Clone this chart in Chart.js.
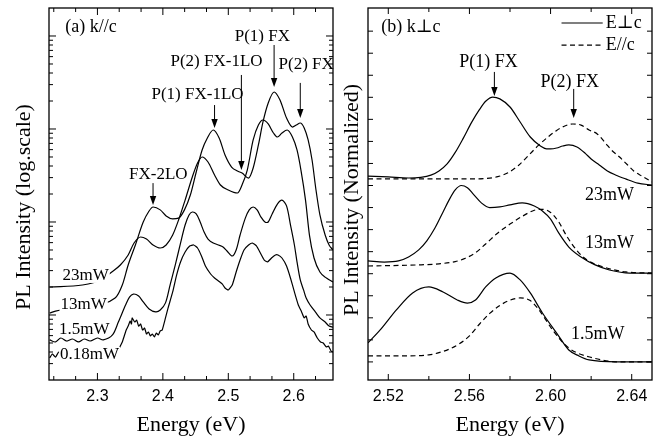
<!DOCTYPE html>
<html>
<head>
<meta charset="utf-8">
<script src="https://cdn.jsdelivr.net/npm/chart.js@4.4.0/dist/chart.umd.min.js"></script>
<style>
  body { margin: 0; background: #fff; }
  #wrap { position: relative; width: 661px; height: 440px; background: #fff; }
  canvas { position: absolute; top: 0; }
  #chartA { left: 0; }
  #chartB { left: 340px; }
</style>
</head>
<body>
<div id="wrap">
  <canvas id="chartA" width="340" height="440" style="width:340px;height:440px"></canvas>
  <canvas id="chartB" width="321" height="440" style="width:321px;height:440px"></canvas>
</div>
<script>
// ---------- panel (a) k//c : PL intensity, log scale ----------
const eA23 = [2.227, 2.277, 2.305, 2.320, 2.335, 2.347, 2.356, 2.366, 2.375, 2.385, 2.396, 2.405, 2.415, 2.424, 2.434, 2.445, 2.453, 2.460, 2.469, 2.479, 2.488, 2.500, 2.514, 2.521, 2.529, 2.538, 2.546, 2.553, 2.561, 2.569, 2.575, 2.582, 2.590, 2.598, 2.605, 2.611, 2.618, 2.624, 2.631, 2.640, 2.650, 2.660];
const iA23 = [20.0, 21.0, 23.8, 28.3, 34.5, 44.2, 59.4, 69.0, 65.6, 56.6, 52.5, 56.6, 72.4, 105, 172, 305, 431, 500, 442, 320, 250, 221, 205, 250, 362, 762, 1104, 1250, 1133, 906, 820, 906, 975, 820, 595, 362, 172, 72.4, 41.0, 29.0, 25.0, 22.7];

const eA13 = [2.227, 2.236, 2.282, 2.327, 2.338, 2.347, 2.358, 2.370, 2.378, 2.385, 2.396, 2.405, 2.415, 2.424, 2.433, 2.442, 2.451, 2.460, 2.468, 2.477, 2.486, 2.495, 2.505, 2.514, 2.521, 2.531, 2.538, 2.546, 2.553, 2.561, 2.570, 2.579, 2.589, 2.598, 2.604, 2.610, 2.616, 2.622, 2.628, 2.634, 2.640, 2.648, 2.654, 2.660];
const iA13 = [10.5, 11.0, 12.5, 15.2, 21.0, 34.5, 56.6, 100, 128, 145, 135, 116, 108, 110, 135, 195, 345, 595, 800, 975, 800, 525, 390, 353, 336, 297, 381, 673, 1190, 1905, 2500, 2050, 1310, 1050, 1104, 1160, 1025, 762, 464, 221, 119, 72.4, 56.6, 50.0];

const eA15 = [2.227, 2.236, 2.244, 2.253, 2.262, 2.271, 2.280, 2.289, 2.300, 2.309, 2.323, 2.332, 2.343, 2.349, 2.355, 2.363, 2.370, 2.379, 2.389, 2.396, 2.404, 2.411, 2.419, 2.427, 2.434, 2.440, 2.445, 2.451, 2.457, 2.463, 2.469, 2.477, 2.485, 2.492, 2.498, 2.506, 2.512, 2.518, 2.526, 2.532, 2.538, 2.544, 2.550, 2.556, 2.561, 2.567, 2.575, 2.582, 2.589, 2.595, 2.601, 2.605, 2.610, 2.615, 2.619, 2.625, 2.633, 2.640, 2.648, 2.654, 2.660];
const iA15 = [5.4, 5.13, 5.66, 5.25, 5.52, 5.13, 5.52, 5.25, 5.66, 5.4, 6.1, 8.4, 12.8, 15.6, 16.8, 16.0, 13.8, 11.6, 10.8, 11.3, 13.5, 21.0, 34.5, 59.4, 92.9, 119, 128, 122, 100, 78, 65.6, 59.4, 56.6, 53.8, 48.8, 43.1, 50.0, 72.4, 110, 135, 145, 135, 113, 100, 100, 122, 156, 172, 149, 92.9, 56.6, 37.2, 23.8, 18.6, 15.2, 12.8, 10.8, 9.3, 8.4, 7.6, 7.4];

const eA018 = [2.227, 2.231, 2.236, 2.241, 2.259, 2.289, 2.320, 2.332, 2.335, 2.338, 2.341, 2.344, 2.347, 2.350, 2.352, 2.353, 2.357, 2.360, 2.363, 2.366, 2.369, 2.372, 2.375, 2.378, 2.381, 2.384, 2.387, 2.390, 2.393, 2.396, 2.399, 2.404, 2.408, 2.415, 2.421, 2.427, 2.434, 2.441, 2.447, 2.453, 2.459, 2.465, 2.473, 2.479, 2.485, 2.491, 2.495, 2.500, 2.506, 2.512, 2.518, 2.524, 2.531, 2.537, 2.543, 2.549, 2.555, 2.560, 2.566, 2.572, 2.576, 2.582, 2.589, 2.595, 2.601, 2.607, 2.612, 2.616, 2.619, 2.622, 2.627, 2.631, 2.636, 2.641, 2.645, 2.650, 2.653, 2.657, 2.660];
const iA018 = [3.45, 3.81, 3.53, 4.0, 3.81, 3.9, 4.0, 4.2, 4.64, 5.13, 5.95, 6.9, 7.6, 8.6, 8.0, 9.3, 8.4, 8.8, 7.6, 8.0, 6.9, 7.24, 6.25, 6.57, 5.95, 6.25, 5.8, 6.4, 6.1, 6.73, 6.9, 9.3, 11.9, 17.7, 26.9, 37.2, 47.5, 55.2, 56.6, 52.5, 43.1, 33.6, 27.6, 25.0, 23.2, 21.5, 19.5, 18.6, 21.0, 29.0, 39.0, 50.0, 56.6, 59.4, 55.2, 46.4, 39.0, 37.2, 41.0, 44.2, 44.2, 41.0, 33.6, 25.0, 17.7, 12.8, 10.8, 9.3, 9.75, 8.0, 6.9, 6.57, 5.66, 5.13, 5.0, 4.53, 4.64, 4.1, 4.0];

const xMajorA = [2.3, 2.4, 2.5, 2.6];
const xLabelsA = ['2.3', '2.4', '2.5', '2.6'];
const xMinorA = [2.2333, 2.2667, 2.3333, 2.3667, 2.4333, 2.4667, 2.5333, 2.5667, 2.6333];
const yMajorA = [10, 100, 1000, 10000];
const yMinorA = [3, 4, 5, 6, 7, 8, 9, 20, 30, 40, 50, 60, 70, 80, 90, 200, 300, 400, 500, 600, 700, 800, 900, 2000, 3000, 4000, 5000, 6000, 7000, 8000, 9000];

// ---------- panel (b) k⊥c : normalized, linear ----------
const eB23s = [2.510, 2.520, 2.530, 2.536, 2.541, 2.545, 2.549, 2.553, 2.557, 2.561, 2.565, 2.568, 2.5715, 2.575, 2.580, 2.585, 2.590, 2.595, 2.598, 2.600, 2.603, 2.606, 2.609, 2.613, 2.617, 2.620, 2.624, 2.628, 2.632, 2.637, 2.643, 2.650];
const vB23s = [8.43, 8.39, 8.34, 8.37, 8.47, 8.66, 8.98, 9.50, 10.15, 10.85, 11.45, 11.82, 12.01, 11.93, 11.56, 10.88, 10.20, 9.79, 9.66, 9.66, 9.70, 9.79, 9.84, 9.75, 9.47, 9.20, 8.93, 8.66, 8.48, 8.30, 8.11, 8.02];
const eB23d = [2.510, 2.540, 2.560, 2.568, 2.574, 2.579, 2.584, 2.589, 2.594, 2.599, 2.603, 2.607, 2.611, 2.615, 2.619, 2.623, 2.627, 2.630, 2.634, 2.638, 2.641, 2.645, 2.650];
const vB23d = [8.30, 8.30, 8.30, 8.32, 8.40, 8.58, 8.90, 9.35, 9.82, 10.22, 10.50, 10.70, 10.79, 10.74, 10.52, 10.34, 9.93, 9.61, 9.29, 8.93, 8.66, 8.43, 8.16];

const eB13s = [2.510, 2.518, 2.525, 2.530, 2.535, 2.539, 2.543, 2.547, 2.550, 2.553, 2.556, 2.559, 2.562, 2.566, 2.570, 2.575, 2.580, 2.586, 2.592, 2.596, 2.600, 2.604, 2.609, 2.615, 2.622, 2.629, 2.639, 2.650];
const vB13s = [4.58, 4.53, 4.58, 4.76, 5.08, 5.49, 6.07, 6.80, 7.35, 7.80, 8.00, 7.90, 7.60, 7.20, 7.00, 7.03, 7.12, 7.21, 7.07, 6.84, 6.48, 5.85, 5.21, 4.76, 4.40, 4.17, 4.03, 4.03];
const eB13d = [2.510, 2.535, 2.545, 2.553, 2.558, 2.563, 2.568, 2.574, 2.580, 2.586, 2.592, 2.596, 2.600, 2.604, 2.608, 2.613, 2.618, 2.626, 2.637, 2.650];
const vB13d = [4.35, 4.40, 4.45, 4.55, 4.70, 4.95, 5.35, 5.85, 6.25, 6.60, 6.88, 6.92, 6.78, 6.35, 5.70, 5.05, 4.62, 4.31, 4.08, 4.03];

const eB15s = [2.510, 2.516, 2.524, 2.532, 2.540, 2.547, 2.554, 2.559, 2.563, 2.568, 2.573, 2.580, 2.585, 2.590, 2.596, 2.603, 2.609, 2.614, 2.619, 2.633, 2.650];
const vB15s = [0.86, 1.45, 2.36, 3.13, 3.40, 3.17, 2.81, 2.67, 2.81, 3.40, 3.81, 4.03, 3.72, 3.13, 2.22, 1.31, 0.54, 0.27, 0.09, 0.0, 0.0];
const eB15d = [2.510, 2.525, 2.540, 2.545, 2.550, 2.555, 2.560, 2.565, 2.570, 2.575, 2.580, 2.585, 2.590, 2.595, 2.601, 2.609, 2.621, 2.634, 2.650];
const vB15d = [0.27, 0.27, 0.32, 0.42, 0.58, 0.82, 1.18, 1.72, 2.20, 2.56, 2.80, 2.90, 2.78, 2.27, 1.45, 0.63, 0.18, 0.0, 0.0];

const xMajorB = [2.52, 2.56, 2.60, 2.64];
const xLabelsB = ['2.52', '2.56', '2.60', '2.64'];
const xMinorB = [2.54, 2.58, 2.62];
const yTicksB = [0, 1, 2, 3, 4, 5, 6, 7, 8, 9, 10, 11, 12, 13, 14, 15];

// ---------- annotations (data coordinates) ----------
const notesA = [
  { text: 'P(1) FX', e: 2.552, v: 9750 },
  { text: 'P(2) FX-1LO', e: 2.482, v: 5380 },
  { text: 'P(2) FX', e: 2.619, v: 4880 },
  { text: 'P(1) FX-1LO', e: 2.453, v: 2320 },
  { text: 'FX-2LO', e: 2.393, v: 320 }
];
const arrowsA = [
  { e: 2.570, from: 8000, to: 2830 },
  { e: 2.520, from: 3810, to: 362 },
  { e: 2.610, from: 3130, to: 1310 },
  { e: 2.479, from: 1810, to: 1025 },
  { e: 2.385, from: 262, to: 152 }
];
const powerA = [
  { text: '23mW', e: 2.282, v: 26.3 },
  { text: '13mW', e: 2.279, v: 13.1 },
  { text: '1.5mW', e: 2.280, v: 7.06 },
  { text: '0.18mW', e: 2.288, v: 3.72 }
];
const notesB = [
  { text: 'P(1) FX', e: 2.5694, v: 13.60 },
  { text: 'P(2) FX', e: 2.6094, v: 12.69 },
  { text: '23mW', e: 2.6291, v: 7.57 },
  { text: '13mW', e: 2.6291, v: 5.39 },
  { text: '1.5mW', e: 2.6232, v: 1.27 }
];
const arrowsB = [
  { e: 2.5723, from: 13.15, to: 12.06 },
  { e: 2.6114, from: 12.38, to: 11.06 }
];

const SERIF = '"Liberation Serif", "DejaVu Serif", serif';
const SANS = '"Liberation Sans", Arial, sans-serif';

function pts(es, vs) {
  return es.map((e, i) => ({ x: e, y: vs[i] }));
}

function seg(ctx, x1, y1, x2, y2) {
  ctx.beginPath();
  ctx.moveTo(x1, y1);
  ctx.lineTo(x2, y2);
  ctx.stroke();
}

function drawArrow(ctx, x, y1, y2) {
  ctx.lineWidth = 1;
  seg(ctx, x, y1, x, y2 - 7);
  ctx.beginPath();
  ctx.moveTo(x - 3.2, y2 - 9);
  ctx.lineTo(x + 3.2, y2 - 9);
  ctx.lineTo(x, y2);
  ctx.closePath();
  ctx.fill();
}

function drawFrame(chart, cfg) {
  const { ctx, chartArea: a, scales: { x, y } } = chart;
  ctx.save();
  ctx.strokeStyle = '#000';
  ctx.fillStyle = '#000';
  ctx.lineWidth = 1;
  cfg.xMajor.forEach(v => {
    const p = x.getPixelForValue(v);
    seg(ctx, p, a.bottom, p, a.bottom - cfg.xMaj);
    seg(ctx, p, a.top, p, a.top + cfg.xMaj);
  });
  cfg.xMinor.forEach(v => {
    const p = x.getPixelForValue(v);
    seg(ctx, p, a.bottom, p, a.bottom - cfg.xMin);
    seg(ctx, p, a.top, p, a.top + cfg.xMin);
  });
  cfg.yMajor.forEach(v => {
    const p = y.getPixelForValue(v);
    seg(ctx, a.left, p, a.left + cfg.yMaj, p);
    seg(ctx, a.right, p, a.right - cfg.yMaj, p);
  });
  cfg.yMinor.forEach(v => {
    const p = y.getPixelForValue(v);
    seg(ctx, a.left, p, a.left + cfg.yMin, p);
    seg(ctx, a.right, p, a.right - cfg.yMin, p);
  });
  ctx.lineWidth = 1.3;
  ctx.strokeRect(a.left, a.top, a.right - a.left, a.bottom - a.top);

  ctx.font = '16px ' + SANS;
  ctx.textAlign = 'center';
  ctx.textBaseline = 'middle';
  cfg.xMajor.forEach((v, i) => ctx.fillText(cfg.xLabels[i], x.getPixelForValue(v), a.bottom + 17));

  ctx.font = cfg.titleSize + 'px ' + SERIF;
  ctx.fillText('Energy (eV)', (a.left + a.right) / 2, a.bottom + 45);
  ctx.save();
  ctx.translate(cfg.yTitleX, cfg.yTitleY);
  ctx.rotate(-Math.PI / 2);
  ctx.fillText(cfg.yTitle, 0, 0);
  ctx.restore();
  ctx.restore();
}

const lineBase = { borderColor: '#000', borderWidth: 1.2, pointRadius: 0, fill: false };

function baseOptions(pad, xMin, xMax, yScale) {
  return {
    responsive: false,
    animation: false,
    layout: { padding: pad },
    plugins: { legend: { display: false }, tooltip: { enabled: false } },
    scales: {
      x: { type: 'linear', min: xMin, max: xMax, display: false },
      y: Object.assign({ display: false }, yScale)
    }
  };
}

// ---------- chart (a) ----------
new Chart(document.getElementById('chartA'), {
  type: 'line',
  data: {
    datasets: [
      Object.assign({ label: '23mW', data: pts(eA23, iA23), cubicInterpolationMode: 'monotone' }, lineBase),
      Object.assign({ label: '13mW', data: pts(eA13, iA13), cubicInterpolationMode: 'monotone' }, lineBase),
      Object.assign({ label: '1.5mW', data: pts(eA15, iA15), tension: 0.3 }, lineBase),
      Object.assign({ label: '0.18mW', data: pts(eA018, iA018), tension: 0.15, borderWidth: 1 }, lineBase)
    ]
  },
  options: baseOptions({ left: 49, right: 7, top: 8, bottom: 60 }, 2.226, 2.66,
    { type: 'logarithmic', min: 2, max: 20000 }),
  plugins: [{
    id: 'panelA',
    afterDatasetsDraw(chart) {
      const { ctx, scales: { x, y } } = chart;
      ctx.save();
      ctx.fillStyle = '#000';
      ctx.textBaseline = 'middle';
      ctx.font = '17px ' + SERIF;
      // power labels sit on white boxes over the curve tails
      powerA.forEach(n => {
        const px = x.getPixelForValue(n.e), py = y.getPixelForValue(n.v);
        const w = ctx.measureText(n.text).width;
        ctx.fillStyle = '#fff';
        ctx.fillRect(px - w / 2 - 1, py - 8, w + 2, 15);
        ctx.fillStyle = '#000';
        ctx.textAlign = 'center';
        ctx.fillText(n.text, px, py);
      });
      notesA.forEach(n => {
        ctx.textAlign = 'center';
        ctx.fillText(n.text, x.getPixelForValue(n.e), y.getPixelForValue(n.v));
      });
      arrowsA.forEach(ar => drawArrow(ctx, x.getPixelForValue(ar.e), y.getPixelForValue(ar.from), y.getPixelForValue(ar.to)));
      ctx.font = '18px ' + SERIF;
      ctx.textAlign = 'left';
      ctx.fillText('(a) k//c', x.getPixelForValue(2.251), y.getPixelForValue(12500));
      ctx.restore();
      drawFrame(chart, {
        xMajor: xMajorA, xLabels: xLabelsA, xMinor: xMinorA, xMaj: 7, xMin: 4,
        yMajor: yMajorA, yMinor: yMinorA, yMaj: 7, yMin: 4,
        yTitle: 'PL Intensity (log.scale)', yTitleX: 24, yTitleY: 207, titleSize: 22
      });
    }
  }]
});

// ---------- chart (b) ----------
const dashed = [5, 3.5];
const smooth = { cubicInterpolationMode: 'monotone' };
new Chart(document.getElementById('chartB'), {
  type: 'line',
  data: {
    datasets: [
      Object.assign({ label: '23mW E⊥c', data: pts(eB23s, vB23s) }, smooth, lineBase),
      Object.assign({ label: '23mW E//c', data: pts(eB23d, vB23d), borderDash: dashed }, smooth, lineBase),
      Object.assign({ label: '13mW E⊥c', data: pts(eB13s, vB13s) }, smooth, lineBase),
      Object.assign({ label: '13mW E//c', data: pts(eB13d, vB13d), borderDash: dashed }, smooth, lineBase),
      Object.assign({ label: '1.5mW E⊥c', data: pts(eB15s, vB15s) }, smooth, lineBase),
      Object.assign({ label: '1.5mW E//c', data: pts(eB15d, vB15d), borderDash: dashed }, smooth, lineBase)
    ]
  },
  options: baseOptions({ left: 28, right: 9, top: 8, bottom: 60 }, 2.51, 2.65,
    { type: 'linear', min: -0.82, max: 16.05 }),
  plugins: [{
    id: 'panelB',
    afterDatasetsDraw(chart) {
      const { ctx, scales: { x, y } } = chart;
      ctx.save();
      ctx.fillStyle = '#000';
      ctx.strokeStyle = '#000';
      ctx.textBaseline = 'middle';
      ctx.font = '18px ' + SERIF;
      ctx.textAlign = 'center';
      notesB.forEach(n => ctx.fillText(n.text, x.getPixelForValue(n.e), y.getPixelForValue(n.v)));
      arrowsB.forEach(ar => drawArrow(ctx, x.getPixelForValue(ar.e), y.getPixelForValue(ar.from), y.getPixelForValue(ar.to)));
      ctx.textAlign = 'left';
      ctx.fillText('(b) k\u22a5c', x.getPixelForValue(2.5165), y.getPixelForValue(15.19));
      // legend
      const lx1 = x.getPixelForValue(2.6054), lx2 = x.getPixelForValue(2.6257);
      const ly1 = y.getPixelForValue(15.37), ly2 = y.getPixelForValue(14.37);
      ctx.lineWidth = 1.2;
      seg(ctx, lx1, ly1, lx2, ly1);
      ctx.setLineDash(dashed);
      seg(ctx, lx1, ly2, lx2, ly2);
      ctx.setLineDash([]);
      ctx.fillText('E\u22a5c', lx2 + 3, ly1);
      ctx.fillText('E//c', lx2 + 3, ly2);
      ctx.restore();
      drawFrame(chart, {
        xMajor: xMajorB, xLabels: xLabelsB, xMinor: xMinorB, xMaj: 6, xMin: 4,
        yMajor: yTicksB, yMinor: [], yMaj: 5, yMin: 0,
        yTitle: 'PL Intensity (Normalized)', yTitleX: 12, yTitleY: 200, titleSize: 22
      });
    }
  }]
});
</script>
</body>
</html>
